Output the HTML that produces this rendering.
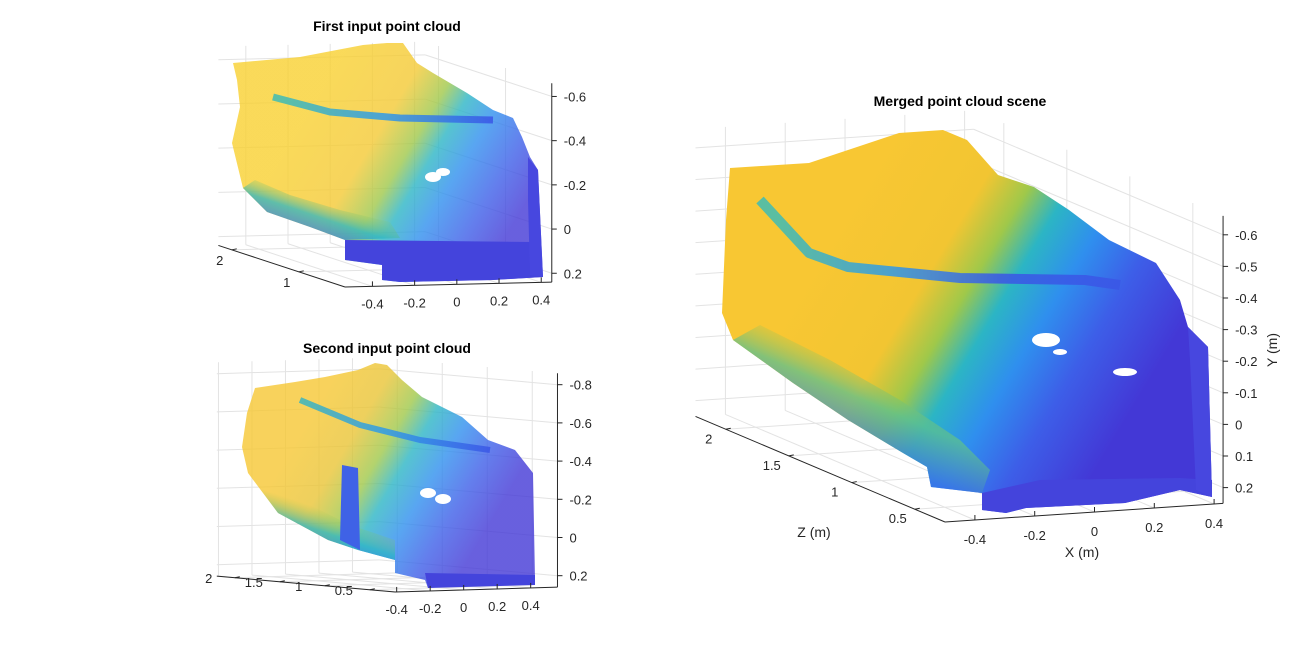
<!DOCTYPE html>
<html><head><meta charset="utf-8">
<style>
html,body{margin:0;padding:0;background:#fff;}
svg{display:block;font-family:"Liberation Sans",sans-serif;}
</style></head>
<body>
<svg id="fig" width="1301" height="661" viewBox="0 0 1301 661" xmlns="http://www.w3.org/2000/svg">
<defs>
 <linearGradient id="g3" gradientUnits="userSpaceOnUse" x1="820" y1="250" x2="1120" y2="430">
  <stop offset="0" stop-color="#f8c733"/><stop offset="0.3" stop-color="#f2c532"/><stop offset="0.42" stop-color="#9fc84a"/>
  <stop offset="0.52" stop-color="#2cb5c4"/><stop offset="0.65" stop-color="#2f8fee"/><stop offset="0.8" stop-color="#3d5ee8"/><stop offset="1" stop-color="#4338d6"/>
 </linearGradient>
 <linearGradient id="g1" gradientUnits="userSpaceOnUse" x1="310" y1="110" x2="510" y2="230">
  <stop offset="0" stop-color="#f8d030"/><stop offset="0.3" stop-color="#f4c934"/><stop offset="0.45" stop-color="#9fc84a"/>
  <stop offset="0.55" stop-color="#2cb5c4"/><stop offset="0.68" stop-color="#2f8fee"/><stop offset="0.85" stop-color="#3d5ee8"/><stop offset="1" stop-color="#4338d6"/>
 </linearGradient>
 <linearGradient id="g2" gradientUnits="userSpaceOnUse" x1="300" y1="434" x2="480" y2="541">
  <stop offset="0" stop-color="#f6c733"/><stop offset="0.22" stop-color="#e9c435"/><stop offset="0.38" stop-color="#9fc84a"/>
  <stop offset="0.5" stop-color="#2cb5c4"/><stop offset="0.65" stop-color="#2f8fee"/><stop offset="0.82" stop-color="#3d5ee8"/><stop offset="1" stop-color="#4338d6"/>
 </linearGradient>
 <linearGradient id="band3" gradientUnits="userSpaceOnUse" x1="780" y1="0" x2="1000" y2="0">
  <stop offset="0" stop-color="#3fbcb4"/><stop offset="0.5" stop-color="#2f9ae8"/><stop offset="1" stop-color="#3a56e6"/>
 </linearGradient>
 <linearGradient id="band1" gradientUnits="userSpaceOnUse" x1="280" y1="0" x2="490" y2="0">
  <stop offset="0" stop-color="#3fbcb4"/><stop offset="0.5" stop-color="#2f9ae8"/><stop offset="1" stop-color="#3a56e6"/>
 </linearGradient>
 <linearGradient id="low3" gradientUnits="userSpaceOnUse" x1="870" y1="360" x2="835" y2="440">
  <stop offset="0" stop-color="#9fc84a" stop-opacity="0"/><stop offset="0.45" stop-color="#5cc090"/><stop offset="1" stop-color="#3a6ee8"/>
 </linearGradient>
 <linearGradient id="low1" gradientUnits="userSpaceOnUse" x1="320" y1="195" x2="305" y2="240">
  <stop offset="0" stop-color="#9fc84a" stop-opacity="0"/><stop offset="0.45" stop-color="#2cb5c4"/><stop offset="1" stop-color="#3a5ee8"/>
 </linearGradient>
 <linearGradient id="low2" gradientUnits="userSpaceOnUse" x1="310" y1="505" x2="295" y2="550">
  <stop offset="0" stop-color="#9fc84a" stop-opacity="0"/><stop offset="0.45" stop-color="#2cb5c4"/><stop offset="1" stop-color="#3a5ee8"/>
 </linearGradient>
</defs>
<g id="layer-grid"></g>
<g id="layer-cloud"></g>
<g id="layer-axes"></g>
</svg>
<script>
// ---- tick data ----
const m_xTicks=[-0.4,-0.2,0,0.2,0.4];
const m_yTicks=[-0.6,-0.5,-0.4,-0.3,-0.2,-0.1,0,0.1,0.2];
const m_zTicks=[0.5,1,1.5,2];
const p1_xTicks=[-0.4,-0.2,0,0.2,0.4];
const p1_yTicks=[-0.6,-0.4,-0.2,0,0.2];
const p1_zTicks=[1,2];
const p2_xTicks=[-0.4,-0.2,0,0.2,0.4];
const p2_yTicks=[-0.8,-0.6,-0.4,-0.2,0,0.2];
const p2_zTicks=[0.5,1,1.5,2];
// cloud silhouettes (screen outlines)
const m_cloud=[[730,168],[809,163],[899,133],[943,130],[967,140],[998,175],[1034,187],[1069,210],[1109,240],[1156,263],[1180,300],[1188,327],[1208,347],[1212,497],[1180,490],[1125,503],[1026,508],[1006,513],[982,510],[982,493],[931,487],[927,467],[903,453],[848,420],[793,383],[733,340],[722,313],[726,220]];
const m_band=[[760,200],[809,253],[848,267],[960,278],[1085,280],[1120,285]];
const m_low=[[733,340],[793,383],[848,420],[903,453],[927,467],[931,487],[982,493],[990,470],[960,440],[900,400],[830,360],[760,325]];
const m_floor=[[931,487],[982,493],[1040,480],[1180,478],[1212,480],[1212,497],[1180,490],[1125,503],[1026,508],[1006,513],[982,510],[982,493]];
const m_wall=[[1188,327],[1208,347],[1212,497],[1196,490],[1190,360]];
const m_holes=[[1046,340,14,7],[1125,372,12,4],[1060,352,7,3]];
const p1_cloud=[[233,63],[300,57],[363,45],[387,43],[403,43],[417,63],[433,73],[467,93],[493,110],[513,118],[522,137],[530,157],[538,170],[543,277],[493,280],[400,282],[382,280],[382,265],[345,260],[345,240],[310,227],[267,212],[243,188],[232,143],[240,107],[237,80]];
const p1_band=[[273,97],[330,112],[400,118],[493,120]];
const p1_low=[[243,188],[267,212],[310,227],[345,240],[400,238],[390,222],[340,210],[290,195],[255,180]];
const p1_floor=[[345,240],[533,242],[543,277],[493,280],[400,282],[382,280],[382,265],[345,260]];
const p1_wall=[[528,157],[538,170],[543,277],[530,275],[528,200]];
const p1_holes=[[433,177,8,5],[443,172,7,4]];
const p2_cloud=[[255,388],[295,382],[325,377],[358,370],[375,363],[387,365],[402,380],[422,397],[462,417],[488,440],[515,450],[533,473],[535,580],[428,588],[425,580],[395,573],[395,560],[358,550],[328,540],[278,513],[248,473],[242,447],[247,413]];
const p2_band=[[300,400],[360,425],[420,440],[490,450]];
const p2_low=[[248,473],[278,513],[328,540],[358,550],[395,560],[395,540],[350,525],[300,500],[262,470]];
const p2_floor=[[425,573],[535,575],[535,585],[428,588]];
const p2_stripe=[[342,465],[358,468],[360,550],[340,540]];
const p2_holes=[[428,493,8,5],[443,499,8,5]];

const NS='http://www.w3.org/2000/svg';
function mk(tag,attrs,parent){const e=document.createElementNS(NS,tag);for(const k in attrs)e.setAttribute(k,attrs[k]);parent.appendChild(e);return e;}
const gGrid=document.getElementById('layer-grid'),gCloud=document.getElementById('layer-cloud'),gAx=document.getElementById('layer-axes');

function panel(P){
 const proj=(x,y,z)=>[P.ox+(x-P.x0)*P.ex[0]+(z-P.z0)*P.ez[0], P.oy+(x-P.x0)*P.ex[1]+(z-P.z0)*P.ez[1]+(y-P.yb)*P.ey];
 const line=(a,b,par,st,w,name)=>{const l=mk('line',{x1:a[0],y1:a[1],x2:b[0],y2:b[1],stroke:st,'stroke-width':w},par);
  
  return l;};
 const {xmin,xmax,ymin,ymax,zmin,zmax}=P;
 const gg=mk('g',{},gGrid);
 
 
 const GC='#e3e3e3';
 P.xt.forEach(x=>{line(proj(x,ymax,zmax),proj(x,ymin,zmax),gg,GC,1,'grid-x');line(proj(x,ymax,zmin),proj(x,ymax,zmax),gg,GC,1,'grid-x');});
 P.zt.forEach(z=>{line(proj(xmax,ymax,z),proj(xmax,ymin,z),gg,GC,1,'grid-z');line(proj(xmin,ymax,z),proj(xmax,ymax,z),gg,GC,1,'grid-z');});
 P.yt.forEach(y=>{line(proj(xmin,y,zmax),proj(xmax,y,zmax),gg,GC,1,'grid-y');line(proj(xmax,y,zmin),proj(xmax,y,zmax),gg,GC,1,'grid-y');});
 const gc=mk('g',{},gCloud);
 
 
 const poly=(pts,fill,name,extra)=>{const p=mk('polygon',Object.assign({points:pts.map(q=>q.join(',')).join(' '),fill:fill},extra||{}),gc);
  
  return p;};
 poly(P.cloud,P.grad,'cloud-surface',{'fill-opacity':P.op});
 if(P.low)poly(P.low,P.lowg,'cloud-lower-band',{'fill-opacity':0.75});
 if(P.band){const b=mk('polyline',{points:P.band.map(q=>q.join(',')).join(' '),fill:'none',stroke:P.bandg,'stroke-width':P.bw,'stroke-linejoin':'round','stroke-opacity':0.85},gc);
  
  }
 if(P.floor)poly(P.floor,'#4444dc','cloud-floor');
 if(P.wall)poly(P.wall,'#4747df','cloud-right-wall');
 if(P.stripe)poly(P.stripe,'#3f62e6','cloud-pillar');
 (P.holes||[]).forEach(h=>{const e=mk('ellipse',{cx:h[0],cy:h[1],rx:h[2]||9,ry:h[3]||6,fill:'#fff'},gc);
  
  });
 const ga=mk('g',{},gAx);
 
 
 const AC='#262626';
 line(proj(xmin,ymax,zmin),proj(xmax,ymax,zmin),ga,AC,1,'x-axis-line');
 line(proj(xmin,ymax,zmin),proj(xmin,ymax,zmax),ga,AC,1,'z-axis-line');
 line(proj(xmax,ymax,zmin),proj(xmax,ymin,zmin),ga,AC,1,'y-axis-line');
 const txt=(s,x,y,anchor,name,fs,extra)=>{const t=mk('text',Object.assign({x:x,y:y,'text-anchor':anchor,'font-size':fs||13,fill:AC},extra||{}),ga);t.textContent=s;
  
  return t;};
 P.xt.forEach(x=>{const a=proj(x,ymax,zmin);line(a,[a[0],a[1]-5],ga,AC,1,'x-tick');txt(String(x),a[0],a[1]+P.xlo,'middle','x-tick-label');});
 P.yt.forEach(y=>{const a=proj(xmax,y,zmin);line(a,[a[0]+5,a[1]],ga,AC,1,'y-tick');txt(String(y),a[0]+12,a[1]+5,'start','y-tick-label');});
 P.zt.forEach(z=>{const a=proj(xmin,ymax,z);line(a,[a[0]+5,a[1]-1],ga,AC,1,'z-tick');txt(String(z),a[0]+P.zlo[0],a[1]+P.zlo[1],'middle','z-tick-label');});
 txt(P.title,P.tx,P.ty,'middle',P.name+'-title',14,{'font-weight':'bold',fill:'#000'});
 if(P.labels){txt('X (m)',1082,557,'middle','x-axis-title',14);txt('Z (m)',814,537,'middle','z-axis-title',14);
  txt('Y (m)',1277,350,'middle','y-axis-title',14,{transform:'rotate(-90 1277 350)'});}
}
panel({name:'merged-cloud',ox:945,oy:522,x0:-0.5,z0:0.26,yb:0.25,ex:[299,-20],ez:[-126,-53.3],ey:316,
 xmin:-0.5,xmax:0.43,ymin:-0.66,ymax:0.25,zmin:0.26,zmax:2.24,xt:m_xTicks,yt:m_yTicks,zt:m_zTicks,
 cloud:m_cloud,band:m_band,low:m_low,floor:m_floor,wall:m_wall,holes:m_holes,grad:'url(#g3)',bandg:'url(#band3)',lowg:'url(#low3)',bw:10,op:1,
 xlo:24,zlo:[-17,14],title:'Merged point cloud scene',tx:960,ty:106,labels:true});
panel({name:'first-cloud',ox:345,oy:287,x0:-0.53,z0:0.31,yb:0.24,ex:[211,-5],ez:[-67,-22],ey:221,
 xmin:-0.53,xmax:0.45,ymin:-0.66,ymax:0.24,zmin:0.31,zmax:2.2,xt:p1_xTicks,yt:p1_yTicks,zt:p1_zTicks,
 cloud:p1_cloud,band:p1_band,low:p1_low,floor:p1_floor,wall:p1_wall,holes:p1_holes,grad:'url(#g1)',bandg:'url(#band1)',lowg:'url(#low1)',bw:7,op:0.8,
 xlo:22,zlo:[-12,15],title:'First input point cloud',tx:387,ty:31});
panel({name:'second-cloud',ox:395,oy:592,x0:-0.41,z0:0.22,yb:0.26,ex:[167.5,-5],ez:[-90,-8],ey:191,
 xmin:-0.41,xmax:0.56,ymin:-0.86,ymax:0.26,zmin:0.22,zmax:2.2,xt:p2_xTicks,yt:p2_yTicks,zt:p2_zTicks,
 cloud:p2_cloud,band:p2_band,low:p2_low,floor:p2_floor,stripe:p2_stripe,holes:p2_holes,grad:'url(#g2)',bandg:'url(#band1)',lowg:'url(#low2)',bw:6,op:0.8,
 xlo:22,zlo:[-26,5],title:'Second input point cloud',tx:387,ty:353});
</script>
</body></html>
